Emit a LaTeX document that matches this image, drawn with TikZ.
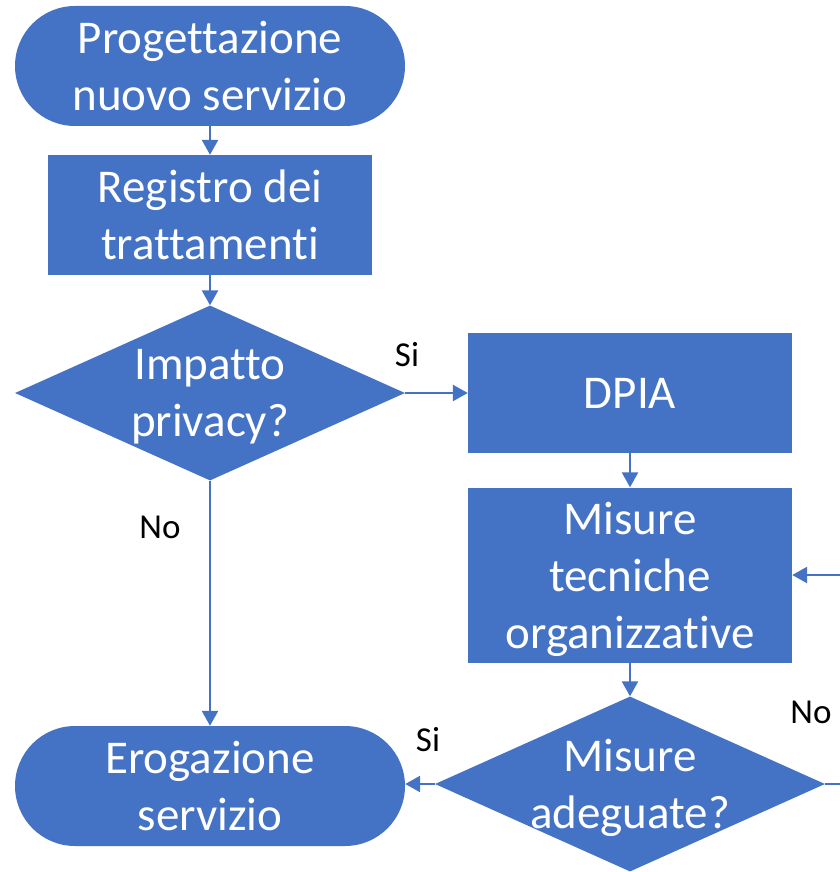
\documentclass[tikz,border=0pt]{standalone}
\usepackage{fontspec}
\setmainfont{Carlito}[Ligatures=NoCommon]
\usetikzlibrary{shapes.geometric,arrows.meta}
\definecolor{flowblue}{HTML}{4472C4}

\tikzset{
  term/.style={fill=flowblue,text=white,rounded corners=60pt,minimum width=390pt,minimum height=120pt,align=center,text depth=0pt,font=\fontsize{47}{57}\selectfont},
  proc/.style={fill=flowblue,text=white,minimum width=324pt,minimum height=120pt,align=center,text depth=0pt,font=\fontsize{47}{57}\selectfont},
  deci/.style={diamond,fill=flowblue,text=white,inner sep=-30pt,minimum width=390pt,minimum height=175pt,align=center,text depth=0pt,font=\fontsize{47}{57}\selectfont},
  conn/.style={draw=flowblue,line width=2.5pt,-{Triangle[length=15pt,width=16pt]}},
  lbl/.style={text=black,font=\fontsize{35}{40}\selectfont}
}

\begin{document}
\begin{tikzpicture}[x=1pt,y=-1pt]
  \useasboundingbox (0,0) rectangle (839,872);

  \node[term] (PrNu) at (210,66) {Progettazione\\nuovo servizio};
  \node[proc] (ReTr) at (210,215) {Registro dei\\trattamenti};
  \node[deci] (ImPr) at (210,393) {Impatto\\privacy?};
  \node[proc] (DPIA) at (630,393) {DPIA};
  \node[proc, minimum height=175pt] (MiTe) at (630,575) {Misure\\tecniche\\organizzative};
  \node[deci] (MiAd) at (630,784) {Misure\\adeguate?};
  \node[term] (ErSe) at (210,786) {Erogazione\\servizio};

  \draw[conn] (PrNu) to (ReTr);
  \draw[conn] (ReTr) to (ImPr);
  \draw[conn] (ImPr) to (DPIA);
  \draw[conn] (DPIA) to (MiTe);
  \draw[conn] (MiTe) to (MiAd);
  \draw[conn] (ImPr) to (ErSe);
  \draw[conn] (MiAd.west) to (MiAd.west -| ErSe.east);

  % %loop back when not adequate
  \coordinate (Lo) at (862,784);
  \draw[conn] (MiAd.east) -- (Lo) |- (MiTe.east);

  \node[lbl] (SiA) at (407,355) {Si};
  \node[lbl] (NoA) at (160,527) {No};
  \node[lbl] (SiB) at (428,740) {Si};
  \node[lbl] (NoB) at (811,712) {No};

\end{tikzpicture}
\end{document}
